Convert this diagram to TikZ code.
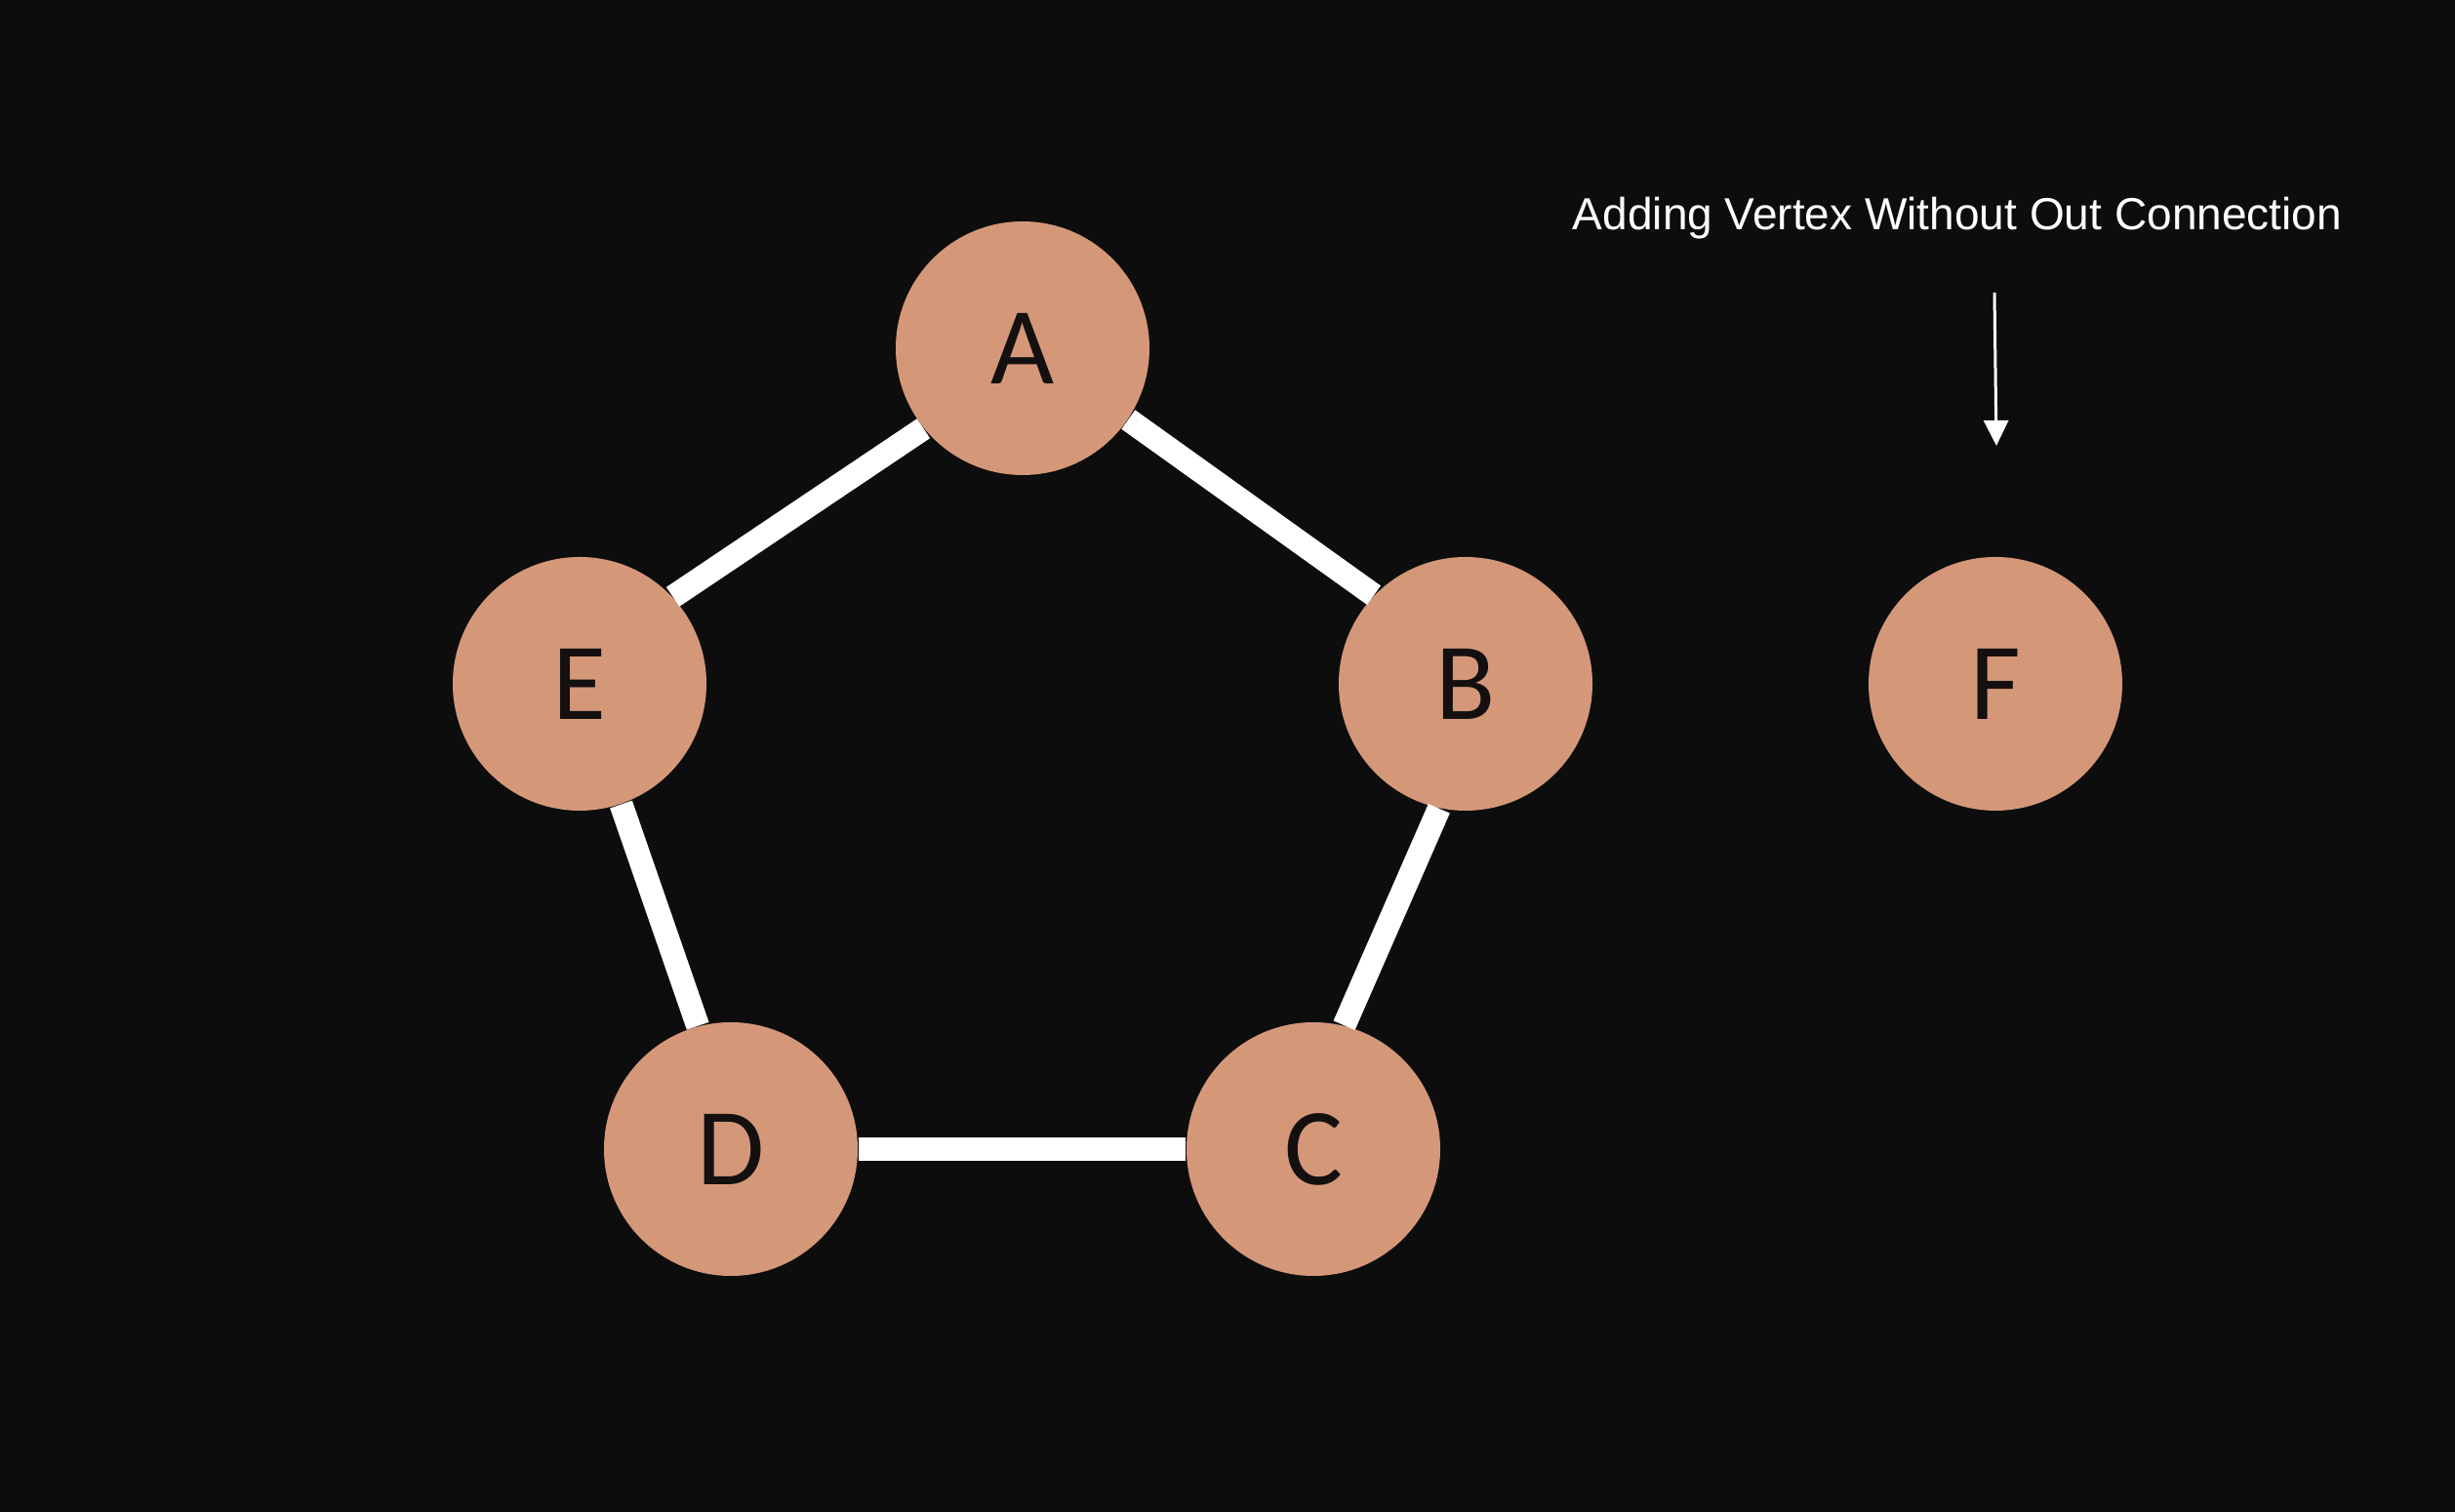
\documentclass[tikz,border=0pt]{standalone}
\usepackage{fontspec}
\setmainfont{Liberation Sans}
\newfontfamily\vertexfont{Carlito}
\usetikzlibrary{arrows.meta}
\definecolor{bgdark}{HTML}{0D0D0D}
\definecolor{vertexfill}{HTML}{D49879}
\definecolor{letterdark}{HTML}{141010}
\tikzset{
  vertex/.style={circle,fill=vertexfill,draw=none,minimum size=2.6cm,inner sep=0pt,
    text=letterdark,font=\vertexfont\fontsize{32}{36}\selectfont},
  edge/.style={white,line width=0.24cm},
  note/.style={white,font=\fontsize{13.1}{15}\selectfont}
}
\begin{document}
\begin{tikzpicture}
     \fill[bgdark] (0,0) rectangle (25.16,15.5);
     \useasboundingbox (0,0) rectangle (25.16,15.5);
     % the five vertices of the cycle
     \node[vertex] (A) at (10.48,11.93){A};
     \node[vertex] (B) at (15.02,8.49){B};
     \node[vertex] (C) at (13.46,3.72){C};
     \node[vertex] (D) at (7.49,3.72){D};
     \node[vertex] (E) at (5.94,8.49){E};
     \draw[edge] (A.326) -- (B.136);
     \draw[edge] (B.258) -- (C.76);
     \draw[edge] (C.180) -- (D.0);
     \draw[edge] (D.105) -- (E.289);
     \draw[edge] (E.43) -- (A.219);
     % new vertex
     \node[vertex] (F) at (20.45,8.49){F};
     \node[note,anchor=base] (label) at (20.06,13.14){Adding Vertex Without Out Connection};
     \coordinate (arrtop) at (20.44,12.5);
     \coordinate (arrtip) at (20.46,10.93);
     \draw[white,line width=0.03cm,-{Triangle[width=0.25cm,length=0.26cm]}] (arrtop) -- (arrtip);

     \end{tikzpicture}
\end{document}
